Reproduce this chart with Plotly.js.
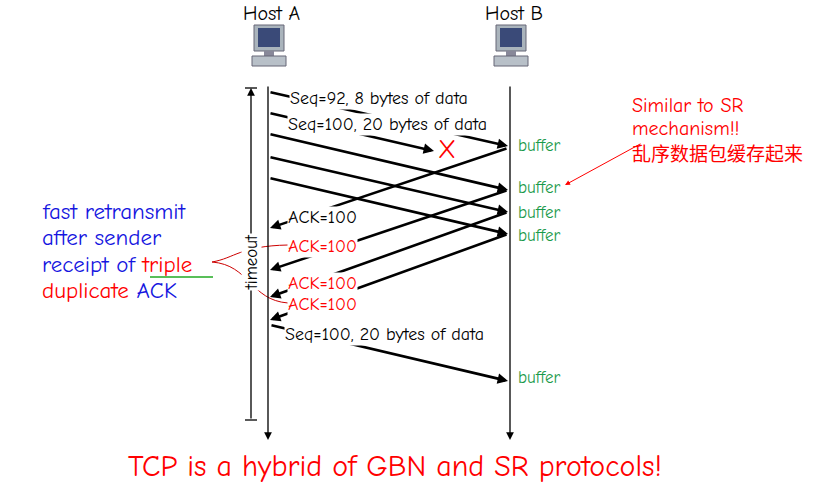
<!DOCTYPE html><html><head><script src="https://cdn.plot.ly/plotly-3.0.1.min.js"></script>
<style>body{margin:0}</style></head><body><div id="c" style="width:835px;height:484px"></div><script>
// timeline positions (y in pixels-down scale)
const hostX = [268, 510];
const hostNames = ['Host A', 'Host B'];
const segSend = [92, 113, 134, 157, 178];
const segRecv = [146, 151, 190, 212, 234];
const segLost = [false, true, false, false, false];
const ackSend = [148, 190, 212, 234];
const ackRecv = [228, 270, 297, 320];
const ackLabelY = [217, 246, 283, 304];
const ackColors = ['black', 'red', 'red', 'red'];
const reSend = [325], reRecv = [381];
const bufferY = [145, 187, 212, 235, 377];
const F = "Comic Neue, 'DejaVu Sans', sans-serif";
const A = [], S = [];
function arrow(x0,y0,x1,y1){A.push({x:x1,y:y1,ax:x0,ay:y0,xref:'x',yref:'y',axref:'x',ayref:'y',text:'',showarrow:true,arrowhead:2,arrowsize:0.8,arrowwidth:2.6,arrowcolor:'black'});}
function txt(x,y,t,c,s,o){A.push(Object.assign({x:x,y:y,xref:'x',yref:'y',text:t,showarrow:false,xanchor:'left',font:{family:F,size:s||15,color:c||'black'}},o||{}));}
// host lines
hostX.forEach((x,i)=>{
  A.push({x:x,y:440,ax:x,ay:85,xref:'x',yref:'y',axref:'x',ayref:'y',text:'',showarrow:true,arrowhead:2,arrowsize:1.2,arrowwidth:1.3,arrowcolor:'black'});
  txt(x+4,13,hostNames[i],'black',20,{xanchor:'center'});
  S.push({type:'rect',x0:x-14,x1:x+16,y0:25,y1:51,fillcolor:'#aab4bc',line:{color:'#667',width:1}});
  S.push({type:'rect',x0:x-10,x1:x+12,y0:28,y1:47,fillcolor:'#3a4a78',line:{width:0}});
  S.push({type:'rect',x0:x-4,x1:x+6,y0:51,y1:56,fillcolor:'#889',line:{width:0}});
  S.push({type:'rect',x0:x-16,x1:x+18,y0:56,y1:66,fillcolor:'#b8c0c8',line:{color:'#667',width:1}});
});
// timeout arrow
A.push({x:251,y:88,ax:251,ay:420,xref:'x',yref:'y',axref:'x',ayref:'y',text:'',showarrow:true,arrowhead:2,arrowsize:1.2,arrowwidth:1.3,arrowcolor:'black'});
S.push({type:'line',x0:245,x1:257,y0:88,y1:88,line:{color:'black',width:1.3}});
S.push({type:'line',x0:245,x1:257,y0:420,y1:420,line:{color:'black',width:1.3}});
// segments
segSend.forEach((y,i)=>{ if(segLost[i]) arrow(269,y,434,segRecv[i]); else arrow(269,y,508,segRecv[i]); });
ackSend.forEach((y,i)=>arrow(508,y,270,ackRecv[i]));
reSend.forEach((y,i)=>arrow(270,y,508,reRecv[i]));
// red braces
S.push({type:'path',path:'M 212 262 C 235 258, 240 246, 288 245',line:{color:'#c00',width:1}});
S.push({type:'path',path:'M 212 262 C 250 265, 250 300, 288 303',line:{color:'#c00',width:1}});
S.push({type:'line',x0:150,x1:213,y0:277,y1:277,line:{color:'#2a2',width:1.5}});
// labels
txt(289,98,'Seq=92, 8 bytes of data','black',18,{bgcolor:'white',borderpad:0});
txt(287,124,'Seq=100, 20 bytes of data','black',18,{bgcolor:'white',borderpad:0});
txt(447,150,'X','red',26,{xanchor:'center'});
ackLabelY.forEach((y,i)=>txt(287,y,'ACK=100',ackColors[i],18,{bgcolor:'white',borderpad:0}));
txt(284,334,'Seq=100, 20 bytes of data','black',18,{bgcolor:'white',borderpad:0});
bufferY.forEach(y=>txt(516,y,'buffer','#1a9a4a',17));
txt(251,262,'timeout','black',17,{xanchor:'center',textangle:-90,bgcolor:'white',borderpad:0});
txt(40,211,'fast retransmit','#1515e0',23);
txt(40,237,'after sender','#1515e0',23);
txt(40,264,'receipt of <span style="color:red">triple</span>','#1515e0',23);
txt(40,290,'<span style="color:red">duplicate</span> ACK','#1515e0',23);
txt(630,105,'Similar to SR','red',20);
txt(630,128,'mechanism!!','red',20);
txt(630,152,'乱序数据包缓存起来','red',19,{font:{family:"'Noto Sans CJK SC'",size:19,color:'red'}});
A.push({x:565,y:185,ax:642,ay:143,xref:'x',yref:'y',axref:'x',ayref:'y',text:'',showarrow:true,arrowhead:2,arrowsize:1,arrowwidth:1,arrowcolor:'red'});
txt(395,466,'TCP is a hybrid of GBN and SR protocols!','red',30,{xanchor:'center'});
Plotly.newPlot('c',[],{width:835,height:484,margin:{l:0,r:0,t:0,b:0},paper_bgcolor:'white',plot_bgcolor:'white',
 xaxis:{range:[0,835],visible:false,fixedrange:true},yaxis:{range:[484,0],visible:false,fixedrange:true},
 shapes:S,annotations:A,showlegend:false},{staticPlot:true});
</script></body></html>
